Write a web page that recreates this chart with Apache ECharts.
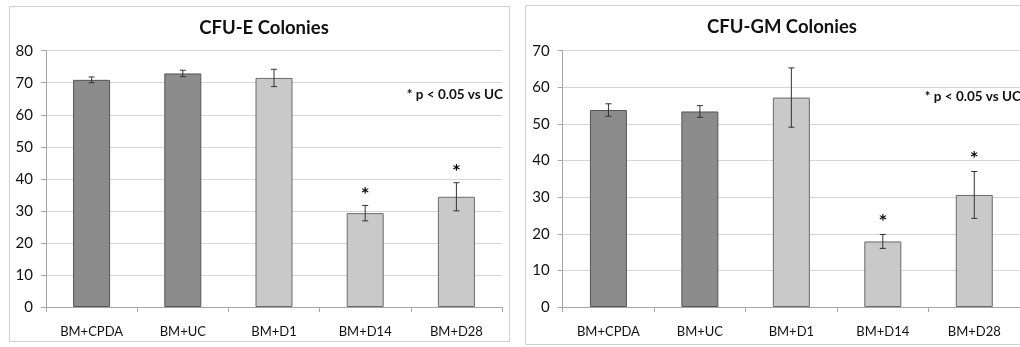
<!DOCTYPE html>
<html><head><meta charset="utf-8">
<script src="https://cdn.jsdelivr.net/npm/echarts@6/dist/echarts.min.js"></script>
<style>html,body{margin:0;padding:0;background:#fff}#c{width:1020px;height:347px}</style>
</head><body><div id="c"></div>
<script>
const categories = ['BM+CPDA', 'BM+UC', 'BM+D1', 'BM+D14', 'BM+D28'];
const cfuE = [70.9, 72.9, 71.5, 29.3, 34.4];
const cfuEErr = [0.9, 1.0, 2.7, 2.4, 4.4];
const cfuGM = [53.8, 53.4, 57.2, 17.9, 30.6];
const cfuGMErr = [1.7, 1.6, 8.1, 1.9, 6.4];
const sig = ['', '', '', '*', '*'];
const shade = ['dark', 'dark', 'light', 'light', 'light'];
const titles = ['CFU-E Colonies', 'CFU-GM Colonies'];
const note = '* p < 0.05 vs UC';

const colors = {dark: '#8c8c8c', light: '#c9c9c9'};
const borders = {dark: '#555555', light: '#6a6a6a'};
const FONT = 'Lato, "Open Sans", sans-serif';

function barData(vals) {
  return vals.map((v, i) => ({value: v, itemStyle: {color: colors[shade[i]], borderColor: borders[shade[i]], borderWidth: 1}}));
}
function errSeries(vals, errs, idx, starGap) {
  return {
    type: 'custom', xAxisIndex: idx, yAxisIndex: idx, z: 5,
    data: vals.map((v, i) => [i, v, errs[i], sig[i]]),
    renderItem: function (params, api) {
      const x = api.value(0), v = api.value(1), e = api.value(2);
      const hi = api.coord([x, v + e]), lo = api.coord([x, v - e]);
      const cw = 3;
      const st = {stroke: '#333', lineWidth: 1};
      const children = [
        {type: 'line', shape: {x1: hi[0], y1: hi[1], x2: lo[0], y2: lo[1]}, style: st},
        {type: 'line', shape: {x1: hi[0] - cw, y1: hi[1], x2: hi[0] + cw, y2: hi[1]}, style: st},
        {type: 'line', shape: {x1: lo[0] - cw, y1: lo[1], x2: lo[0] + cw, y2: lo[1]}, style: st}
      ];
      const s = sig[params.dataIndex];
      if (s) {
        children.push({type: 'text', x: hi[0], y: hi[1] - starGap, style: {text: s, fill: '#000', font: 'bold 14px "DejaVu Sans", sans-serif', align: 'center', verticalAlign: 'middle'}});
      }
      return {type: 'group', children: children};
    }
  };
}

const gridTop = 50.7, gridH = 256.3;
function xAx(idx) {
  return {
    type: 'category', gridIndex: idx, data: categories,
    axisLine: {lineStyle: {color: '#a6a6a6'}},
    axisTick: {show: true, length: 5, lineStyle: {color: '#a6a6a6'}},
    axisLabel: {color: '#111', fontSize: 13, fontFamily: FONT, margin: 18}
  };
}
function yAx(idx, max) {
  return {
    type: 'value', gridIndex: idx, min: 0, max: max, interval: 10,
    axisLine: {show: true, lineStyle: {color: '#a6a6a6'}},
    axisTick: {show: true, length: 5, lineStyle: {color: '#a6a6a6'}},
    axisLabel: {color: '#111', fontSize: 15, fontFamily: FONT, margin: 13},
    splitLine: {lineStyle: {color: '#d6d6d6'}}
  };
}

const option = {
  animation: false,
  backgroundColor: '#fff',
  title: [
    {text: titles[0], left: 259, top: 14, textAlign: 'center', textStyle: {fontSize: 18.5, fontWeight: 'bold', fontFamily: FONT, color: '#111'}},
    {text: titles[1], left: 777, top: 13, textAlign: 'center', textStyle: {fontSize: 18.5, fontWeight: 'bold', fontFamily: FONT, color: '#111'}}
  ],
  grid: [
    {left: 46, top: gridTop, width: 456, height: gridH},
    {left: 562.7, top: gridTop, width: 457.5, height: gridH}
  ],
  xAxis: [xAx(0), xAx(1)],
  yAxis: [yAx(0, 80), yAx(1, 70)],
  graphic: [
    {type: 'rect', shape: {x: 9.5, y: 6.5, width: 500, height: 335}, style: {fill: 'none', stroke: '#cfcfcf', lineWidth: 1}, z: -10},
    {type: 'rect', shape: {x: 525.5, y: 5.5, width: 510, height: 339}, style: {fill: 'none', stroke: '#cfcfcf', lineWidth: 1}, z: -10},
    {type: 'text', right: 1020 - 503, top: 88, style: {text: note, font: 'bold 13.5px ' + FONT, fill: '#111', align: 'right'}},
    {type: 'text', right: -1, top: 90, style: {text: note, font: 'bold 13.5px ' + FONT, fill: '#111', align: 'right'}}
  ],
  series: [
    {type: 'bar', xAxisIndex: 0, yAxisIndex: 0, barWidth: 37, data: barData(cfuE)},
    errSeries(cfuE, cfuEErr, 0, 12),
    {type: 'bar', xAxisIndex: 1, yAxisIndex: 1, barWidth: 37, data: barData(cfuGM)},
    errSeries(cfuGM, cfuGMErr, 1, 14)
  ]
};
const chart = echarts.init(document.getElementById('c'), null, {renderer: 'canvas'});
chart.setOption(option);
</script></body></html>
